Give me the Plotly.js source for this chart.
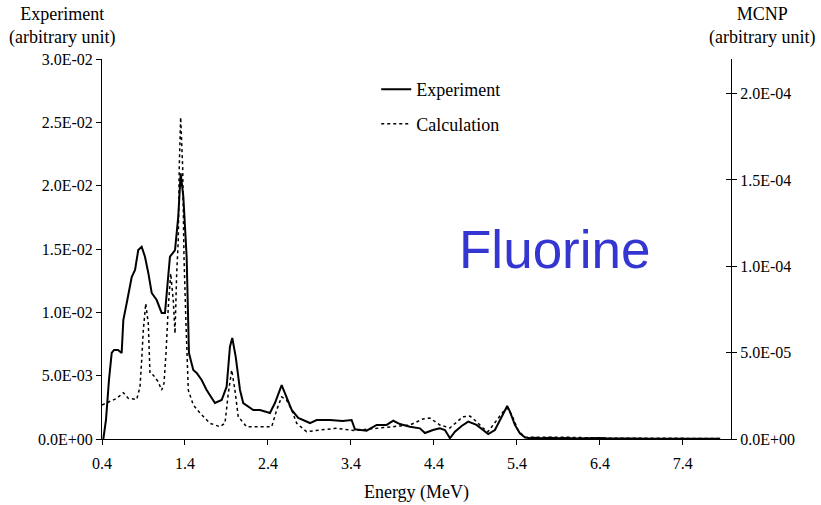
<!DOCTYPE html>
<html>
<head>
<meta charset="utf-8">
<script src="https://cdn.plot.ly/plotly-3.0.1.min.js"></script>
<style>html,body{margin:0;padding:0;background:#fff;}#chart{width:821px;height:505px;}</style>
</head>
<body>
<div id="chart"></div>
<script>
// Experiment spectrum (left axis)
const expEnergy = [0.416,0.448,0.484,0.517,0.545,0.593,0.637,0.657,0.698,0.758,0.798,0.837,0.878,0.918,0.958,0.999,1.059,1.119,1.159,1.199,1.219,1.280,1.319,1.348,1.380,1.420,1.448,1.500,1.541,1.601,1.661,1.761,1.842,1.902,1.942,1.970,2.011,2.063,2.102,2.223,2.304,2.424,2.484,2.565,2.625,2.686,2.765,2.906,2.987,3.147,3.300,3.408,3.448,3.589,3.710,3.830,3.910,3.990,4.111,4.231,4.292,4.388,4.472,4.533,4.593,4.653,4.734,4.813,4.914,4.994,5.054,5.135,5.195,5.255,5.283,5.316,5.376,5.436,5.496,5.557,5.6,5.7,5.8,5.9,6.0,6.1,6.2,6.3,6.4,6.5,6.6,6.7,6.8,7.0,7.2,7.4,7.6,7.8,7.85];
const expCounts = [0,1.5e-3,4.66e-3,6.79e-3,7.03e-3,7.03e-3,6.79e-3,9.39e-3,1.074e-2,1.279e-2,1.334e-2,1.492e-2,1.518e-2,1.439e-2,1.311e-2,1.153e-2,1.097e-2,9.95e-3,9.95e-3,1.255e-2,1.439e-2,1.492e-2,1.755e-2,2.098e-2,1.913e-2,1.439e-2,6.79e-3,5.45e-3,5.21e-3,4.66e-3,3.87e-3,2.84e-3,3.08e-3,4.13e-3,7.29e-3,7.97e-3,6.50e-3,3.87e-3,2.84e-3,2.29e-3,2.29e-3,2.05e-3,2.84e-3,4.26e-3,3.34e-3,2.29e-3,1.66e-3,1.26e-3,1.50e-3,1.50e-3,1.42e-3,1.50e-3,7.7e-4,6.6e-4,1.11e-3,1.11e-3,1.44e-3,1.18e-3,9.7e-4,8.4e-4,4.7e-4,7.1e-4,8.4e-4,7.1e-4,6e-5,5.8e-4,1.03e-3,1.37e-3,1.11e-3,7.1e-4,3.9e-4,7.1e-4,1.50e-3,2.29e-3,2.61e-3,2.16e-3,1.11e-3,4.5e-4,1.3e-4,6e-5,1.0e-4,6e-5,9e-5,5e-5,8e-5,4e-5,6e-5,3e-5,7e-5,3e-5,5e-5,2e-5,4e-5,2e-5,3e-5,1e-5,2e-5,1e-5,1e-5];

// MCNP calculation (right axis)
const calcEnergy = [0.400,0.496,0.577,0.657,0.717,0.818,0.858,0.878,0.898,0.927,0.958,0.978,1.018,1.078,1.119,1.147,1.171,1.199,1.228,1.259,1.280,1.300,1.319,1.331,1.348,1.372,1.388,1.412,1.440,1.500,1.581,1.701,1.822,1.882,1.922,1.963,2.002,2.042,2.143,2.343,2.445,2.505,2.565,2.625,2.686,2.746,2.866,3.027,3.228,3.388,3.448,3.750,4.111,4.267,4.352,4.472,4.593,4.749,4.834,4.914,4.994,5.051,5.156,5.235,5.280,5.340,5.412,5.496,5.6,6.0,6.5,7.0,7.5,7.85];
const calcCounts = [1.97e-5,2.16e-5,2.35e-5,2.68e-5,2.35e-5,2.29e-5,3.02e-5,4.57e-5,6.30e-5,7.84e-5,6.69e-5,3.80e-5,3.70e-5,3.31e-5,2.83e-5,3.22e-5,4.95e-5,7.65e-5,9.58e-5,8.03e-5,6.11e-5,9.58e-5,1.150e-4,1.574e-4,1.863e-4,1.574e-4,1.054e-4,6.69e-5,2.83e-5,1.97e-5,1.50e-5,9.1e-6,7.1e-6,9.1e-6,2.64e-5,3.99e-5,2.83e-5,1.29e-5,7.1e-6,7.1e-6,7.1e-6,1.68e-5,2.44e-5,2.25e-5,1.68e-5,9.1e-6,4.2e-6,5.2e-6,6.2e-6,5.2e-6,4.9e-6,6.4e-6,8.1e-6,1.16e-5,1.21e-5,8.1e-6,6.4e-6,1.29e-5,1.33e-5,1.0e-5,6.2e-6,4.2e-6,1.10e-5,1.58e-5,1.79e-5,1.39e-5,5.2e-6,9e-7,1e-6,1e-6,5e-7,5e-7,3e-7,3e-7];

const xTicks = [0.4,1.4,2.4,3.4,4.4,5.4,6.4,7.4];
const xTickText = ["0.4","1.4","2.4","3.4","4.4","5.4","6.4","7.4"];
const leftTicks = [0,0.005,0.01,0.015,0.02,0.025,0.03];
const leftTickText = ["0.0E+00","5.0E-03","1.0E-02","1.5E-02","2.0E-02","2.5E-02","3.0E-02"];
const rightTicks = [0,5e-5,1e-4,1.5e-4,2e-4];
const rightTickText = ["0.0E+00","5.0E-05","1.0E-04","1.5E-04","2.0E-04"];

const serif = "Liberation Serif, Times New Roman, serif";

const traces = [
  {x: expEnergy, y: expCounts, type: "scatter", mode: "lines", name: "Experiment",
   line: {color: "#000", width: 2}, legendgroup: "a", yaxis: "y"},
  {x: calcEnergy, y: calcCounts, type: "scatter", mode: "lines", name: "Calculation",
   line: {color: "#000", width: 1.5, dash: "dot"}, legendgroup: "b", yaxis: "y2"},
  {x: [], y: [], type: "scatter", mode: "lines", yaxis: "y3", showlegend: false, hoverinfo: "skip"}
];

const layout = {
  width: 821, height: 505,
  margin: {l: 102, r: 90, t: 59, b: 66},
  paper_bgcolor: "#fff", plot_bgcolor: "#fff",
  font: {family: serif, size: 16, color: "#000"},
  showlegend: true,
  legend: {x: 0.436, y: 0.968, xanchor: "left", yanchor: "top", bgcolor: "rgba(0,0,0,0)",
           font: {family: serif, size: 18, color: "#000"}, tracegroupgap: 8, itemwidth: 30},
  xaxis: {range: [0.4, 7.98], tickvals: xTicks, ticktext: xTickText, showgrid: false, zeroline: false,
          showline: true, linecolor: "#000", linewidth: 1, ticks: "outside", ticklen: 5, tickcolor: "#000",
          tickfont: {family: serif, size: 16}, ticklabelstandoff: 5,
          title: {text: "Energy (MeV)", font: {family: serif, size: 18}, standoff: 14}},
  yaxis: {range: [0, 0.03], tickvals: leftTicks, ticktext: leftTickText, showgrid: false, zeroline: false,
          showline: true, linecolor: "#000", linewidth: 1, ticks: "outside", ticklen: 5, tickcolor: "#000",
          tickfont: {family: serif, size: 16}},
  yaxis2: {range: [0, 2.2e-4], tickvals: rightTicks, ticktext: rightTickText, overlaying: "y", side: "right",
           showgrid: false, zeroline: false, showline: true, linecolor: "#000", linewidth: 1,
           ticks: "outside", ticklen: 5, tickcolor: "#000", tickfont: {family: serif, size: 16}},
  yaxis3: {range: [0, 2.2e-4], tickvals: rightTicks, overlaying: "y", side: "right", anchor: "x",
           showgrid: false, zeroline: false, showline: false, showticklabels: false,
           ticks: "inside", ticklen: 5, tickcolor: "#000"},
  annotations: [
    {text: "Experiment<br>(arbitrary unit)", xref: "paper", yref: "paper", x: -0.064, y: 1.087,
     xanchor: "center", yanchor: "middle", showarrow: false, font: {family: serif, size: 18}},
    {text: "MCNP<br>(arbitrary unit)", xref: "paper", yref: "paper", x: 1.05, y: 1.087,
     xanchor: "center", yanchor: "middle", showarrow: false, font: {family: serif, size: 18}},
    {text: "Fluorine", xref: "paper", yref: "paper", x: 0.72, y: 0.5,
     xanchor: "center", yanchor: "middle", showarrow: false,
     font: {family: "Liberation Sans, Arial, sans-serif", size: 53, color: "#3535d2"}}
  ]
};

Plotly.newPlot("chart", traces, layout, {displayModeBar: false, staticPlot: true});
</script>
</body>
</html>
